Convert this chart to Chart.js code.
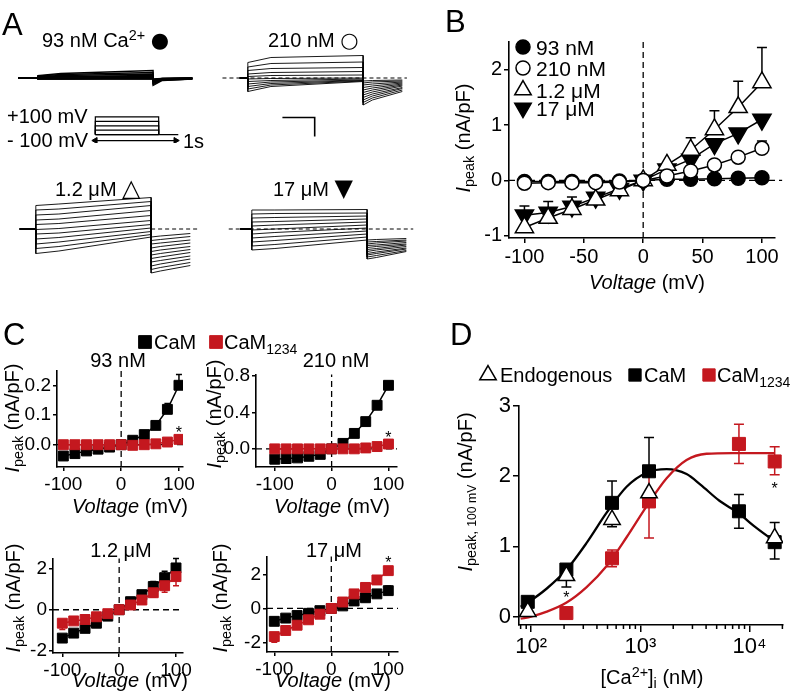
<!DOCTYPE html>
<html>
<head>
<meta charset="utf-8">
<title>Ca2+ dependence of peak current</title>
<script src="https://cdn.jsdelivr.net/npm/chart.js@4.4.1/dist/chart.umd.min.js"></script>
<style>
  html, body { margin: 0; padding: 0; background: #fff; }
  #fig { position: relative; width: 796px; height: 699px; overflow: hidden; background: #fff;
         font-family: "Liberation Sans", Arial, Helvetica, sans-serif; color: #000; }
  #fig canvas { position: absolute; }
  .lbl { position: absolute; white-space: nowrap; line-height: 1; }
  .lbl sub, .lbl sup { font-size: 72%; line-height: 0; }
  .lbl sub { vertical-align: -0.28em; }
  .lbl sup { vertical-align: 0.5em; }
  .sym { font-family: "DejaVu Sans", sans-serif; font-size: 105%; }
  .tri { font-family: "DejaVu Sans", sans-serif; font-size: 120%; }
</style>
</head>
<body>
<div id="fig"></div>
<script>
/* ============================================================
   Peak current vs. [Ca2+]i — four panels, all drawn by Chart.js
   ============================================================ */

const FONT = '"Liberation Sans", Arial, Helvetica, sans-serif';
const RED = '#c4181f';

// ── Panel A: current families (arbitrary units, + = outward) ──
const pulseT = [0, 0.2, 1];          // s: step onset, early, end
const tailT  = [1, 1.08, 1.34];      // s: tail at -100 mV
const traceX = [-0.25, 1.45];
const traceY = [-1.2, 0.8];

const pre93 = -0.17;
const a93Start = [-0.02, -0.02, -0.01, -0.01, 0, 0, 0.01, 0.02, 0.03, 0.04, 0.05];
const a93Early = [-0.02, -0.02, -0.01, -0.01, 0, 0, 0.02, 0.03, 0.05, 0.07, 0.09];
const a93End   = [-0.02, -0.01, -0.01, 0, 0, 0.01, 0.03, 0.05, 0.08, 0.11, 0.15];
const a93Tail0 = [-0.02, -0.03, -0.04, -0.05, -0.06, -0.07, -0.08, -0.1, -0.11, -0.13, -0.15];
const a93TailM = [-0.01, -0.01, -0.01, -0.02, -0.02, -0.02, -0.03, -0.03, -0.04, -0.04, -0.05];
const a93Tail1 = [0, 0, 0, 0, -0.01, -0.01, -0.01, -0.01, -0.02, -0.02, -0.02];

const pre210 = -0.07;
const a210Start = [-0.27, -0.22, -0.17, -0.12, -0.07, -0.02, 0.03, 0.08, 0.15, 0.22, 0.31];
const a210Early = [-0.17, -0.14, -0.11, -0.08, -0.05, -0.01, 0.05, 0.11, 0.19, 0.29, 0.41];
const a210End   = [-0.07, -0.06, -0.05, -0.04, -0.02, 0, 0.06, 0.13, 0.21, 0.32, 0.45];
const a210Tail0 = [-0.06, -0.1, -0.14, -0.19, -0.24, -0.29, -0.34, -0.39, -0.44, -0.49, -0.54];
const a210TailM = [-0.05, -0.08, -0.12, -0.16, -0.2, -0.24, -0.28, -0.32, -0.36, -0.4, -0.44];
const a210Tail1 = [-0.04, -0.06, -0.08, -0.1, -0.12, -0.14, -0.16, -0.19, -0.21, -0.24, -0.27];
const ref210 = [-0.22, 1.38];

const pre12 = -0.14;
const a12Start = [-0.49, -0.39, -0.3, -0.2, -0.1, -0.01, 0.09, 0.18, 0.28, 0.38, 0.47];
const a12Early = [-0.44, -0.35, -0.26, -0.17, -0.08, 0.01, 0.11, 0.2, 0.3, 0.4, 0.5];
const a12End   = [-0.16, -0.11, -0.05, 0.02, 0.09, 0.17, 0.27, 0.37, 0.47, 0.55, 0.63];
const a12Tail0 = [-0.16, -0.23, -0.3, -0.38, -0.45, -0.52, -0.59, -0.66, -0.74, -0.81, -0.88];
const a12TailM = [-0.14, -0.21, -0.28, -0.35, -0.42, -0.49, -0.56, -0.63, -0.7, -0.77, -0.84];
const a12Tail1 = [-0.09, -0.15, -0.22, -0.28, -0.35, -0.41, -0.47, -0.54, -0.6, -0.67, -0.73];
const ref12 = [1, 1.4];

const pre17 = -0.1;
const a17Start = [-0.42, -0.34, -0.26, -0.18, -0.1, -0.02, 0.06, 0.14, 0.22, 0.3, 0.38];
const a17Early = [-0.39, -0.31, -0.23, -0.15, -0.07, 0, 0.08, 0.15, 0.23, 0.31, 0.38];
const a17End   = [-0.22, -0.16, -0.1, -0.04, 0.02, 0.08, 0.14, 0.2, 0.26, 0.32, 0.39];
const a17Tail0 = [-0.22, -0.26, -0.3, -0.33, -0.37, -0.41, -0.45, -0.49, -0.52, -0.56, -0.6];
const a17TailM = [-0.21, -0.25, -0.28, -0.32, -0.35, -0.39, -0.42, -0.46, -0.49, -0.53, -0.57];
const a17Tail1 = [-0.19, -0.22, -0.24, -0.27, -0.3, -0.32, -0.35, -0.38, -0.4, -0.43, -0.45];
const ref17 = [-0.2, 1.4];

const scaleBarT = [0.3, 0.58];
const scaleBarI = [-0.79, -1.17];

// voltage protocol (schematic)
const protoLevels = [100, 50, 0, -50, -100];
const protoTailT = 1.31;
const arrowT = [0, 1.27];
const arrowV = -167;

// ── Panel B: I–V, endogenous CaM ──
const ivVolts = [-100, -80, -60, -40, -20, 0, 20, 40, 60, 80, 100];
const b93    = [-0.02, -0.02, -0.02, -0.02, -0.01, 0, 0.02, 0.02, 0.03, 0.04, 0.05];
const b210   = [-0.05, -0.04, -0.04, -0.04, -0.03, 0, 0.08, 0.17, 0.28, 0.42, 0.58];
const b210Err = [0, 0, 0, 0, 0, 0, 0, 0, 0, 0.05, 0.13];
const b12    = [-0.85, -0.68, -0.52, -0.35, -0.18, 0, 0.28, 0.55, 0.92, 1.32, 1.77];
const b12Err = [0, 0, 0, 0, 0, 0, 0, 0.22, 0.34, 0.47, 0.63];
const b17    = [-0.63, -0.58, -0.47, -0.31, -0.15, 0, 0.2, 0.38, 0.66, 0.85, 1.1];
const b17Err = [0.17, 0.2, 0.17, 0, 0, 0, 0, 0, 0, 0, 0];
const bRangeX = [-113, 111];
const bRangeY = [-1.04, 2.5];
const bTicksX = [-100, -50, 0, 50, 100];
const bTicksY = [-1, 0, 1, 2];

// ── Panel C: I–V, CaM vs CaM1234 ──
const cTicksX = [-100, 0, 100];
const cLabelsX = ['-100', '0', '100'];

const c93Cam     = [-0.038, -0.03, -0.021, -0.015, -0.008, 0, 0.015, 0.034, 0.065, 0.119, 0.2];
const c93CamErr  = [0, 0, 0, 0, 0, 0, 0, 0, 0, 0.02, 0.036];
const c93Cam1234 = [0, 0, 0, 0, 0, 0, -0.002, 0, 0.003, 0.009, 0.018];
const c93RangeX = [-111, 107];
const c93RangeY = [-0.075, 0.248];
const c93TicksY = [0, 0.1, 0.2];
const c93LabelsY = ['0.0', '0.1', '0.2'];
const c93Stars = [[100, 0.05]];

const c210Cam     = [-0.114, -0.107, -0.1, -0.082, -0.061, 0, 0.06, 0.17, 0.3, 0.48, 0.7];
const c210CamErr  = [0, 0, 0, 0, 0, 0, 0, 0, 0, 0, 0.03];
const c210Cam1234 = [0, 0, 0, 0, 0, 0, 0, 0, 0.01, 0.025, 0.053];
const c210RangeX = [-133, 115];
const c210RangeY = [-0.2, 0.82];
const c210TicksY = [0, 0.4, 0.8];
const c210LabelsY = ['0.0', '0.4', '0.8'];
const c210Stars = [[100, 0.16]];

const c12Cam        = [-1.37, -1.13, -0.9, -0.65, -0.31, 0, 0.39, 0.73, 1.12, 1.55, 2.02];
const c12CamErr     = [0, 0, 0, 0, 0, 0, 0, 0.13, 0.24, 0.31, 0.46];
const c12Cam1234    = [-0.65, -0.54, -0.47, -0.34, -0.19, 0, 0.23, 0.47, 0.82, 1.16, 1.6];
const c12Cam1234Err = [0.3, 0, 0, 0, 0, 0, 0, 0, 0.22, 0.31, 0.44];
const c12RangeX = [-116.4, 112.3];
const c12RangeY = [-2.09, 2.48];

const c17Cam        = [-0.76, -0.57, -0.42, -0.29, -0.13, 0, 0.15, 0.44, 0.63, 0.86, 1.05];
const c17CamErr     = [0, 0, 0, 0, 0, 0, 0, 0, 0, 0, 0.28];
const c17Cam1234    = [-1.66, -1.3, -0.99, -0.67, -0.34, 0, 0.38, 0.86, 1.24, 1.68, 2.23];
const c17Cam1234Err = [0.34, 0.15, 0, 0, 0, 0, 0, 0, 0, 0, 0];
const c17RangeX = [-112.8, 117];
const c17RangeY = [-2.57, 3.07];
const c17Stars = [[100, 2.86]];

const cMicroTicksY = [-2, 0, 2];

// ── Panel D: I(100 mV) vs [Ca2+]i ──
const dConcEndo = [93, 210, 550, 1200, 17000];
const dEndo = [0.07, 0.58, 1.38, 1.76, 1.12];
const dEndoErrDown = [0, 0.16, 0.1, 0, 0];

const dConcCam = [93, 210, 550, 1200, 8000, 17000];
const dCam = [0.21, 0.67, 1.62, 2.07, 1.5, 1.06];
const dCamErrUp = [0, 0, 0.31, 0.48, 0.24, 0.28];
const dCamErrDown = [0, 0, 0, 0, 0.24, 0.24];

const dConcRed = [210, 550, 1200, 8000, 17000];
const dCam1234 = [0.05, 0.83, 1.64, 2.46, 2.21];
const dCam1234ErrUp = [0, 0.12, 0.43, 0.28, 0.21];
const dCam1234ErrDown = [0, 0.12, 0.52, 0.28, 0.19];

const dFitCamX = [80, 93, 139, 211, 322, 491, 748, 1140, 1740, 2650, 3550, 5300, 8000, 10800, 17000];
const dFitCamY = [0.14, 0.2, 0.4, 0.67, 1.05, 1.48, 1.85, 2.05, 2.1, 2.03, 1.88, 1.65, 1.47, 1.3, 1.07];
const dFitRedX = [80, 100, 139, 211, 322, 491, 748, 1140, 1740, 2650, 4040, 7000, 17000];
const dFitRedY = [-0.03, 0, 0.07, 0.2, 0.42, 0.72, 1.13, 1.57, 1.97, 2.23, 2.32, 2.33, 2.33];

const dRangeX = [77.3, 20260];
const dRangeY = [-0.12, 3];
const dTicksX = [100, 1000, 10000];
const dLabelsX = ['10\u00B2', '10\u00B3', '10\u2074'];
const dMinorX = [80, 90, 200, 300, 400, 500, 600, 700, 800, 900,
                 2000, 3000, 4000, 5000, 6000, 7000, 8000, 9000, 20000];
const dTicksY = [0, 1, 2, 3];
const dStars = [[210, 0.31], [17000, 1.86]];

// ── Chart.js defaults ──────────────────────────────────────
Chart.defaults.font.family = FONT;
Chart.defaults.color = '#000';
Chart.defaults.animation = false;
Chart.defaults.events = [];
Chart.defaults.plugins.legend.display = false;
Chart.defaults.plugins.tooltip.enabled = false;

// ── small plugins: error bars, asterisks, legends, minor ticks ──
const errorBars = {
  id: 'errorBars',
  beforeDatasetsDraw(chart) {
    const ctx = chart.ctx, ys = chart.scales.y;
    chart.data.datasets.forEach((ds, i) => {
      if (!ds.errUp && !ds.errDown) return;
      const meta = chart.getDatasetMeta(i);
      const cap = ds.errCap || 5;
      ctx.save();
      ctx.strokeStyle = ds.errColor || ds.borderColor;
      ctx.lineWidth = 1.5;
      meta.data.forEach((pt, j) => {
        const v = ds.data[j].y;
        [[ds.errUp, 1], [ds.errDown, -1]].forEach(([arr, sgn]) => {
          if (!arr || !arr[j]) return;
          const y1 = ys.getPixelForValue(v + sgn * arr[j]);
          ctx.beginPath();
          ctx.moveTo(pt.x, pt.y); ctx.lineTo(pt.x, y1);
          ctx.moveTo(pt.x - cap, y1); ctx.lineTo(pt.x + cap, y1);
          ctx.stroke();
        });
      });
      ctx.restore();
    });
  }
};

const starMarks = {
  id: 'stars',
  afterDatasetsDraw(chart, args, opts) {
    if (!opts || !opts.at) return;
    const { ctx, scales: { x, y } } = chart;
    const size = opts.size || 16;
    ctx.save();
    ctx.fillStyle = '#000';
    ctx.font = size + 'px ' + FONT;
    ctx.textAlign = 'center';
    ctx.textBaseline = 'middle';
    opts.at.forEach(([vx, vy]) => {
      ctx.fillText('*', x.getPixelForValue(vx), y.getPixelForValue(vy) + size * 0.25);
    });
    ctx.restore();
  }
};

const keyLegend = {
  id: 'keyLegend',
  afterDraw(chart, args, opts) {
    if (!opts || !opts.items) return;
    const ctx = chart.ctx;
    const ox = chart.canvas.offsetLeft, oy = chart.canvas.offsetTop;
    const size = opts.size || 20;
    ctx.save();
    opts.items.forEach(it => {
      const ds = chart.data.datasets[it.ds];
      const x = it.x - ox, y = it.y - oy;
      ctx.fillStyle = ds.backgroundColor;
      ctx.strokeStyle = ds.borderColor;
      ctx.lineWidth = ds.pointBorderWidth || 1.5;
      Chart.helpers.drawPoint(ctx, {
        pointStyle: ds.pointStyle || 'circle',
        radius: it.r || ds.pointRadius,
        rotation: ds.pointRotation || 0,
        borderWidth: ds.pointBorderWidth || 1.5
      }, x, y);
      ctx.fillStyle = '#000';
      ctx.font = size + 'px ' + FONT;
      ctx.textAlign = 'left';
      ctx.textBaseline = 'alphabetic';
      const by = y + size * 0.36;
      ctx.fillText(it.text, x + it.gap, by);
      if (it.sub) {
        const w = ctx.measureText(it.text).width;
        ctx.font = Math.round(size * 0.72) + 'px ' + FONT;
        ctx.fillText(it.sub, x + it.gap + w, by + size * 0.24);
      }
    });
    ctx.restore();
  }
};

const minorTicks = {
  id: 'minorTicks',
  afterDraw(chart, args, opts) {
    if (!opts || !opts.values) return;
    const { ctx, scales: { x }, chartArea } = chart;
    ctx.save();
    ctx.strokeStyle = '#000';
    ctx.lineWidth = 1.5;
    opts.values.forEach(v => {
      const px = x.getPixelForValue(v);
      ctx.beginPath();
      ctx.moveTo(px, chartArea.bottom);
      ctx.lineTo(px, chartArea.bottom + opts.len);
      ctx.stroke();
    });
    ctx.restore();
  }
};

Chart.register(errorBars, starMarks, keyLegend, minorTicks);

// ── helpers ────────────────────────────────────────────────
const fig = document.getElementById('fig');

function mount(l, t, w, h) {
  const c = document.createElement('canvas');
  c.width = Math.round(w); c.height = Math.round(h);
  c.style.left = Math.round(l) + 'px';
  c.style.top = Math.round(t) + 'px';
  c.style.width = c.width + 'px';
  c.style.height = c.height + 'px';
  fig.appendChild(c);
  return c.getContext('2d');
}

function bare(ctx, xr, yr, datasets) {
  return new Chart(ctx, {
    type: 'line',
    data: { datasets },
    options: {
      responsive: false, devicePixelRatio: 1,
      layout: { padding: 0 },
      scales: {
        x: { type: 'linear', display: false, min: xr[0], max: xr[1] },
        y: { type: 'linear', display: false, min: yr[0], max: yr[1] }
      }
    }
  });
}

function axis(type, range, ticks, labels, size, tickLen) {
  return {
    type, min: range[0], max: range[1],
    afterBuildTicks: s => { s.ticks = ticks.map(v => ({ value: v })); },
    ticks: {
      color: '#000', font: { family: FONT, size }, padding: 2,
      autoSkip: false, maxRotation: 0, minRotation: 0,
      callback: (v, i) => labels[i]
    },
    grid: { drawOnChartArea: false, drawTicks: true, tickLength: tickLen, color: '#000', lineWidth: 1.5 },
    border: { display: true, color: '#000', width: 1.6 }
  };
}

// area = chart area in page pixels, m = room around it for axes/legend
function plot(area, m, xs, ys, datasets, plugins) {
  const ctx = mount(area.l - m.left, area.t - m.top,
                    area.r - area.l + m.left + m.right, area.b - area.t + m.top + m.bottom);
  xs.afterFit = s => { s.height = m.bottom; };
  ys.afterFit = s => { s.width = m.left; };
  return new Chart(ctx, {
    type: 'line',
    data: { datasets },
    options: {
      responsive: false, devicePixelRatio: 1,
      layout: { padding: { left: 0, top: m.top, right: m.right, bottom: 0 } },
      scales: { x: xs, y: ys },
      plugins: plugins || {}
    }
  });
}

const xy = (xs, ys) => xs.map((x, i) => ({ x, y: ys[i] }));

function series(xs, ys, style) {
  return Object.assign({
    data: xy(xs, ys), borderColor: '#000', backgroundColor: '#000',
    borderWidth: 1.5, pointBorderWidth: 1.5, pointRadius: 7, pointStyle: 'circle', tension: 0
  }, style);
}

function dashed(a, b) {
  return { data: [a, b], borderColor: '#000', borderWidth: 1.3, borderDash: [6, 4], pointRadius: 0, clip: false };
}

function zeroLines(rx, ry) {
  return [dashed({ x: rx[0], y: 0 }, { x: rx[1], y: 0 }), dashed({ x: 0, y: ry[0] }, { x: 0, y: ry[1] })];
}

function traceSets(pre, st, ea, en, t0, tm, t1, lw) {
  return st.map((s, i) => ({
    data: [
      { x: pre, y: 0 }, { x: pulseT[0], y: 0 }, { x: pulseT[0], y: s },
      { x: pulseT[1], y: ea[i] }, { x: pulseT[2], y: en[i] },
      { x: tailT[0], y: t0[i] }, { x: tailT[1], y: tm[i] }, { x: tailT[2], y: t1[i] }
    ],
    borderColor: '#000', borderWidth: lw || 0.9, pointRadius: 0, tension: 0
  }));
}

function refLine(span) {
  return { data: [{ x: span[0], y: 0 }, { x: span[1], y: 0 }], borderColor: '#000', borderWidth: 1,
           borderDash: [4, 3], pointRadius: 0 };
}

function label(html, x, base, size, align, rot) {
  const d = document.createElement('div');
  d.className = 'lbl';
  d.innerHTML = html;
  d.style.fontSize = size + 'px';
  d.style.left = x + 'px';
  if (rot) {
    d.style.top = base + 'px';
    d.style.transform = 'translate(-50%,-50%) rotate(-90deg)';
  } else {
    d.style.top = (base - 0.847 * size) + 'px';
    if (align === 'center') d.style.transform = 'translateX(-50%)';
  }
  fig.appendChild(d);
}

// ── Panel A ────────────────────────────────────────────────
bare(mount(9, 38, 196, 100), traceX, traceY,
  traceSets(pre93, a93Start, a93Early, a93End, a93Tail0, a93TailM, a93Tail1, 1.3));

bare(mount(219, 38, 196, 100), traceX, traceY,
  traceSets(pre210, a210Start, a210Early, a210End, a210Tail0, a210TailM, a210Tail1).concat([
    refLine(ref210),
    { data: [{ x: scaleBarT[0], y: scaleBarI[0] }, { x: scaleBarT[1], y: scaleBarI[0] }, { x: scaleBarT[1], y: scaleBarI[1] }],
      borderColor: '#000', borderWidth: 1.6, pointRadius: 0, tension: 0 }
  ]));

bare(mount(7, 189, 196, 100), traceX, traceY,
  traceSets(pre12, a12Start, a12Early, a12End, a12Tail0, a12TailM, a12Tail1).concat([refLine(ref12)]));

bare(mount(223, 189, 196, 100), traceX, traceY,
  traceSets(pre17, a17Start, a17Early, a17End, a17Tail0, a17TailM, a17Tail1).concat([refLine(ref17)]));

const protoSets = protoLevels.map(v => ({
  data: [{ x: 0, y: -100 }, { x: 0, y: v }, { x: 1, y: v }, { x: 1, y: -100 }],
  borderColor: '#000', borderWidth: 1.2, pointRadius: 0, tension: 0
}));
protoSets.push({ data: [{ x: 0, y: -100 }, { x: protoTailT, y: -100 }], borderColor: '#000', borderWidth: 1.2, pointRadius: 0 });
protoSets.push({
  data: [{ x: arrowT[0], y: arrowV }, { x: arrowT[1], y: arrowV }],
  borderColor: '#000', backgroundColor: '#000', borderWidth: 1.2,
  pointStyle: 'triangle', pointRotation: [-90, 90], pointRadius: 3.5, pointBorderWidth: 1
});
bare(mount(84, 110, 105, 38), [-0.1, 1.4], [-195, 122], protoSets);

// ── Panel B ────────────────────────────────────────────────
const bSets = [
  series(ivVolts, b210, { backgroundColor: '#fff', errUp: b210Err }),
  series(ivVolts, b12, { backgroundColor: '#fff', pointStyle: 'triangle', pointRadius: 10.5, errUp: b12Err }),
  series(ivVolts, b93, {}),
  series(ivVolts, b17, { pointStyle: 'triangle', pointRotation: 180, pointRadius: 10.5, errUp: b17Err }),
  dashed({ x: bRangeX[0], y: 0 }, { x: 117, y: 0 }),
  dashed({ x: 0, y: bRangeY[0] }, { x: 0, y: bRangeY[1] })
];
plot({ l: 509, t: 40, r: 775, b: 238 }, { left: 60, top: 12, right: 21, bottom: 35 },
  axis('linear', bRangeX, bTicksX, bTicksX.map(String), 20, 5),
  axis('linear', bRangeY, bTicksY, bTicksY.map(String), 20, 5),
  bSets,
  { keyLegend: { size: 21, items: [
      { ds: 2, x: 523, y: 47, text: '93 nM', gap: 13, r: 7 },
      { ds: 0, x: 523, y: 68, text: '210 nM', gap: 13, r: 7 },
      { ds: 1, x: 523, y: 90, text: '1.2 \u03BCM', gap: 13, r: 9.5 },
      { ds: 3, x: 523, y: 108, text: '17 \u03BCM', gap: 13, r: 9.5 }
  ] } });

// ── Panel C ────────────────────────────────────────────────
function cPanel(area, m, rx, ry, ticksY, labelsY, cam, camErr, red, redErr, plugins) {
  const sets = [
    series(ivVolts, red, { borderColor: RED, backgroundColor: RED, pointStyle: 'rect', pointRadius: 7,
                           pointBorderWidth: 1, errDown: redErr, errCap: 3 }),
    series(ivVolts, cam, { pointStyle: 'rect', pointRadius: 7, pointBorderWidth: 1, errUp: camErr, errCap: 3 })
  ].concat(zeroLines(rx, ry));
  return plot(area, m,
    axis('linear', rx, cTicksX, cLabelsX, 19, 4),
    axis('linear', ry, ticksY, labelsY, 19, 4),
    sets, plugins);
}

cPanel({ l: 57, t: 371, r: 183, b: 467 }, { left: 45, top: 46, right: 125, bottom: 30 },
  c93RangeX, c93RangeY, c93TicksY, c93LabelsY, c93Cam, c93CamErr, c93Cam1234, null,
  { stars: { at: c93Stars, size: 16 },
    keyLegend: { size: 20, items: [
      { ds: 1, x: 145, y: 342, text: 'CaM', gap: 9, r: 9 },
      { ds: 0, x: 216, y: 342, text: 'CaM', sub: '1234', gap: 8, r: 9 }
    ] } });

cPanel({ l: 256, t: 371, r: 397, b: 467 }, { left: 45, top: 10, right: 20, bottom: 30 },
  c210RangeX, c210RangeY, c210TicksY, c210LabelsY, c210Cam, c210CamErr, c210Cam1234, null,
  { stars: { at: c210Stars, size: 16 } });

cPanel({ l: 53, t: 555, r: 183, b: 653 }, { left: 45, top: 10, right: 20, bottom: 30 },
  c12RangeX, c12RangeY, cMicroTicksY, cMicroTicksY.map(String), c12Cam, c12CamErr, c12Cam1234, c12Cam1234Err, {});

cPanel({ l: 267, t: 553, r: 398, b: 652 }, { left: 45, top: 10, right: 20, bottom: 30 },
  c17RangeX, c17RangeY, cMicroTicksY, cMicroTicksY.map(String), c17Cam, c17CamErr, c17Cam1234, c17Cam1234Err,
  { stars: { at: c17Stars, size: 16 } });

// ── Panel D ────────────────────────────────────────────────
const dSets = [
  series(dConcEndo, dEndo, { backgroundColor: '#fff', pointStyle: 'triangle', pointRadius: 9.5, showLine: false,
                             errDown: dEndoErrDown }),
  series(dConcRed, dCam1234, { borderColor: RED, backgroundColor: RED, pointStyle: 'rect', pointRadius: 9.2,
                               pointBorderWidth: 1, showLine: false, errUp: dCam1234ErrUp, errDown: dCam1234ErrDown }),
  series(dConcCam, dCam, { pointStyle: 'rect', pointRadius: 9.2, pointBorderWidth: 1, showLine: false,
                           errUp: dCamErrUp, errDown: dCamErrDown }),
  { data: xy(dFitRedX, dFitRedY), borderColor: RED, borderWidth: 2.3, pointRadius: 0, cubicInterpolationMode: 'monotone' },
  { data: xy(dFitCamX, dFitCamY), borderColor: '#000', borderWidth: 2.3, pointRadius: 0, cubicInterpolationMode: 'monotone' }
];
plot({ l: 519, t: 406, r: 783, b: 625 }, { left: 55, top: 52, right: 13, bottom: 40 },
  axis('logarithmic', dRangeX, dTicksX, dLabelsX, 22, 7),
  axis('linear', dRangeY, dTicksY, dTicksY.map(String), 22, 6),
  dSets,
  { stars: { at: dStars, size: 16 },
    minorTicks: { values: dMinorX, len: 4 },
    keyLegend: { size: 20, items: [
      { ds: 0, x: 488, y: 375, text: 'Endogenous', gap: 12, r: 9.5 },
      { ds: 2, x: 635, y: 375, text: 'CaM', gap: 9, r: 8.7 },
      { ds: 1, x: 709, y: 375, text: 'CaM', sub: '1234', gap: 8, r: 8.7 }
  ] } });

// ── Text: panel letters, condition labels, axis titles ─────
const IPEAK = '<i>I</i><sub>peak</sub> (nA/pF)';
const VOLT = '<i>Voltage</i> (mV)';

label('A', 2, 35, 31); label('B', 445, 32, 31); label('C', 3, 345, 31); label('D', 450, 345, 31);

label('93 nM Ca<sup>2+</sup> <span class="sym">\u25CF</span>', 42, 47, 20);
label('210 nM <span class="sym">\u25CB</span>', 268, 47, 20);
label('+100 mV', 7, 123, 20);
label('- 100 mV', 7, 147, 20);
label('1s', 183, 148, 20);
label('1.2 \u03BCM <span class="tri">\u25B3</span>', 55, 193, 20);
label('17 \u03BCM <span class="tri">\u25BC</span>', 273, 193, 20);

label(VOLT, 647, 289, 20, 'center');
label(IPEAK, 463, 138, 20, 'center', true);

label('93 nM', 118, 367, 20, 'center');
label('210 nM', 336, 367, 20, 'center');
label('1.2 \u03BCM', 121, 557, 20, 'center');
label('17 \u03BCM', 334, 557, 20, 'center');
label(VOLT, 130, 513, 20, 'center');
label(VOLT, 332, 513, 20, 'center');
label(VOLT, 130, 687, 20, 'center');
label(VOLT, 333, 687, 20, 'center');
label(IPEAK, 12, 418, 20, 'center', true);
label(IPEAK, 214, 414, 20, 'center', true);
label(IPEAK, 13, 598, 20, 'center', true);
label(IPEAK, 220, 598, 20, 'center', true);

label('[Ca<sup>2+</sup>]<sub>i</sub> (nM)', 652, 684, 20, 'center');
label('<i>I</i><sub>peak, <span style="font-size:85%">100 mV</span></sub> (nA/pF)', 465, 492, 20, 'center', true);
</script>
</body>
</html>
